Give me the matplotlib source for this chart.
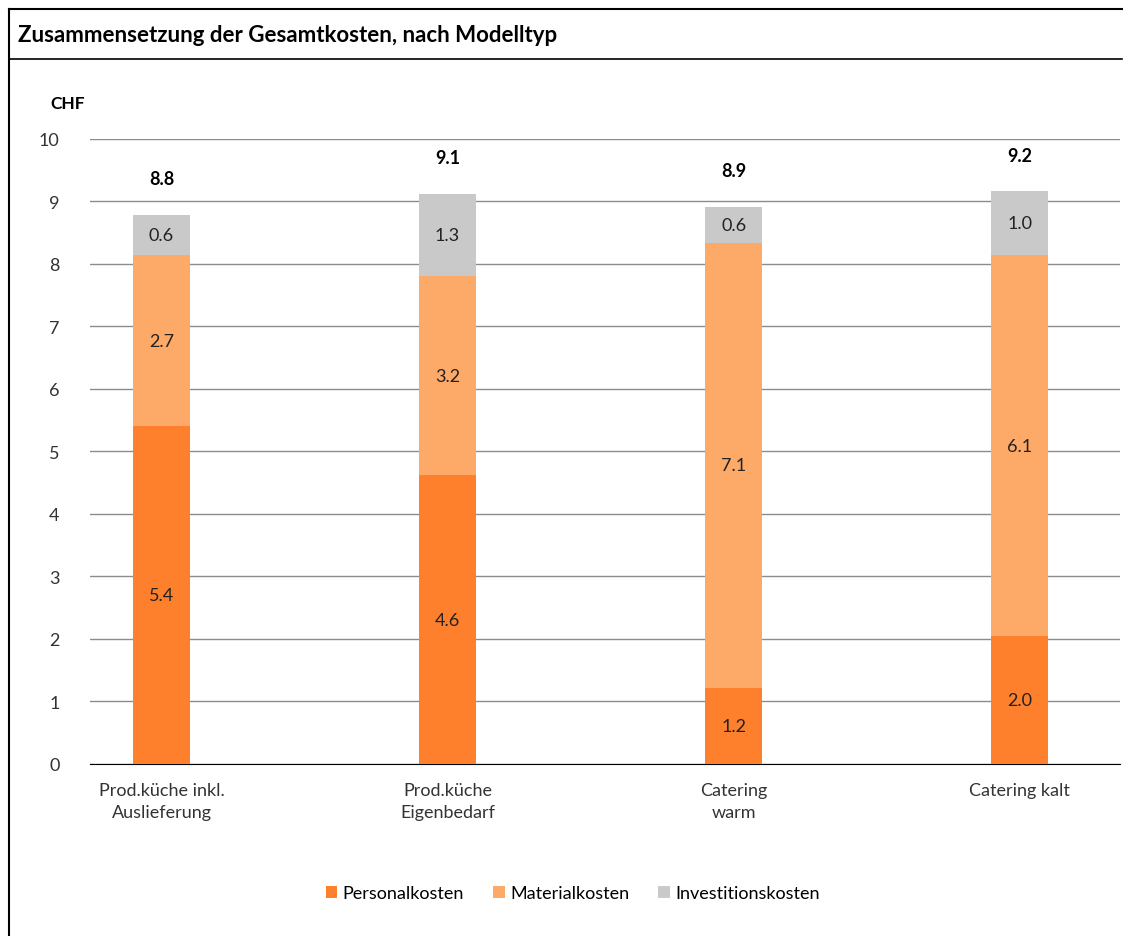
import matplotlib.pyplot as plt
from matplotlib.lines import Line2D
import numpy as np

plt.rcParams['font.family'] = ['Lato', 'DejaVu Sans']

categories = ['Prod.küche inkl.\nAuslieferung', 'Prod.küche\nEigenbedarf', 'Catering\nwarm', 'Catering kalt']
personal = [5.41, 4.62, 1.22, 2.04]
material = [2.73, 3.19, 7.12, 6.11]
invest = [0.64, 1.31, 0.57, 1.01]
series_names = ['Personalkosten', 'Materialkosten', 'Investitionskosten']
colors = ['#FE7F2C', '#FDA968', '#C9C9C9']

fig = plt.figure(figsize=(11.23, 9.37), dpi=100)
ax = fig.add_axes([0.0801, 0.1836, 0.917, 0.667])

x = np.arange(len(categories))
w = 0.2
bottom = np.zeros(len(categories))
for vals, name, c in zip([personal, material, invest], series_names, colors):
    vals = np.array(vals)
    ax.bar(x, vals, w, bottom=bottom, color=c, label=name, zorder=3)
    for xi, b, v in zip(x, bottom, vals):
        ax.text(xi, b + v / 2, f'{v:.1f}', ha='center', va='center', fontsize=13, color='#222222', zorder=4)
    bottom = bottom + vals

for xi, t in zip(x, bottom):
    ax.text(xi, t + 0.58, f'{t:.1f}', ha='center', va='center', fontsize=13, fontweight='bold', color='black')

ax.set_xlim(-0.25, 3.35)
ax.set_ylim(0, 10)
ax.set_yticks(range(0, 11))
ax.yaxis.grid(True, color='#8C8C8C', linewidth=1, zorder=0)
ax.set_axisbelow(True)
for s in ['top', 'right', 'left']:
    ax.spines[s].set_visible(False)
ax.spines['bottom'].set_color('black')
ax.tick_params(axis='both', length=0, labelsize=13, colors='#333333')
ax.tick_params(axis='x', pad=13)
ax.tick_params(axis='y', pad=22)
ax.set_xticks(x)
ax.set_xticklabels(categories, fontsize=13, linespacing=1.45)
ax.text(-0.038, 1.058, 'CHF', transform=ax.transAxes, fontsize=12.5, fontweight='bold', ha='left', va='center')

handles, labels = ax.get_legend_handles_labels()
fig.legend(handles, labels, loc='center', bbox_to_anchor=(0.51, 0.046), ncol=3, frameon=False,
           fontsize=13, handlelength=0.65, handleheight=0.65, handletextpad=0.3, columnspacing=1.6)

# title box
fig.text(0.016, 0.962, 'Zusammensetzung der Gesamtkosten, nach Modelltyp', fontsize=16, fontweight='bold', ha='left', va='center')
fig.add_artist(Line2D([0.008, 0.999], [0.989, 0.989], color='black', lw=1.5))
fig.add_artist(Line2D([0.008, 0.999], [0.936, 0.936], color='black', lw=1.2))
fig.add_artist(Line2D([0.008, 0.008], [0.0, 0.989], color='black', lw=1.5))

fig.savefig('out.png', dpi=100)
